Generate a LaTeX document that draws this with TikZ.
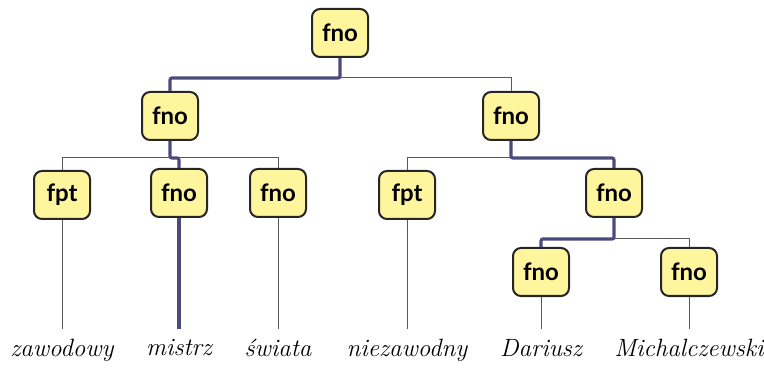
\documentclass[tikz,border=0pt]{standalone}
\usepackage{fontspec}
\newfontfamily\catfont{Lato}
\usepackage{xcolor}
\usetikzlibrary{positioning}
\definecolor{catfill}{HTML}{FFF59D}
\definecolor{headcol}{HTML}{4B4A7C}

\begin{document}
\begin{tikzpicture}[x=0.5pt,y=-0.5pt,
    cat/.style={draw=black!85, line width=1pt, fill=catfill, rounded corners=4pt,
      minimum width=28pt, minimum height=24pt, inner sep=2pt,
      font=\catfont\bfseries\fontsize{12}{14}\selectfont},
    word/.style={anchor=north, inner xsep=3pt, inner ysep=5pt, font=\itshape\fontsize{12.5}{14}\selectfont},
    edge/.style={draw=black!65, line width=0.5pt},
    headpath/.style={draw=headcol, line width=1.6pt, rounded corners=1pt}]
  \useasboundingbox (0,0) rectangle (764,368);      % frame of the picture
  \coordinate (b1) at (0,78);                        % bar under root
  \coordinate (b2) at (0,158);                       % bar under level 1
  \coordinate (b3) at (0,239);                       % bar under level 2
  \coordinate (lv) at (0,329);                       % top of the words
  \node[cat] (root) at (340,33) {fno};               % root
  \node[cat] (fl) at (170,116) {fno};                % left branch
  \node[cat] (fr) at (511,116) {fno};                % right branch
  \node[cat] (adjz) at (62,195) {fpt};
  \node[cat] (mis) at (179,193) {fno};
  \node[cat] (swi) at (278,193) {fno};
  \node[cat] (adjn) at (407,195) {fpt};
  \node[cat] (nam) at (614,193) {fno};
  \node[cat] (dar) at (541,272) {fno};
  \node[cat] (mic) at (689,272) {fno};
  \node[word] (w1) at (adjz |- lv) {zawodowy};       % words
  \node[word] (w2) at (mis |- lv) {mistrz};
  \node[word] (w3) at (swi |- lv) {świata};
  \node[word] (w4) at (adjn |- lv) {niezawodny};
  \node[word] (w5) at (dar |- lv) {Dariusz};
  \node[word] (w6) at (mic |- lv) {Michalczewski};
  % thin branches
  \draw[edge] (root.south |- b1) -| (fr.north);
  \draw[edge] (fl.south |- b2) -| (adjz.north);
  \draw[edge] (fl.south |- b2) -| (swi.north);
  \draw[edge] (fr.south |- b2) -| (adjn.north);
  \draw[edge] (nam.south |- b3) -| (mic.north);
  \draw[edge] (adjz.south) -- (w1.north);
  \draw[edge] (swi.south) -- (w3.north);
  \draw[edge] (adjn.south) -- (w4.north);
  \draw[edge] (dar.south) -- (w5.north);
  \draw[edge] (mic.south) -- (w6.north);
  % head path
  \draw[headpath] (root.south) -- (root.south |- b1) -| (fl.north);
  \draw[headpath] (fl.south) -- (fl.south |- b2) -| (mis.north);
  \draw[headpath] (mis.south) -- (w2.north);
  \draw[headpath] (fr.south) -- (fr.south |- b2) -| (nam.north);
  \draw[headpath] (nam.south) -- (nam.south |- b3) -| (dar.north);
\end{tikzpicture}
\end{document}
